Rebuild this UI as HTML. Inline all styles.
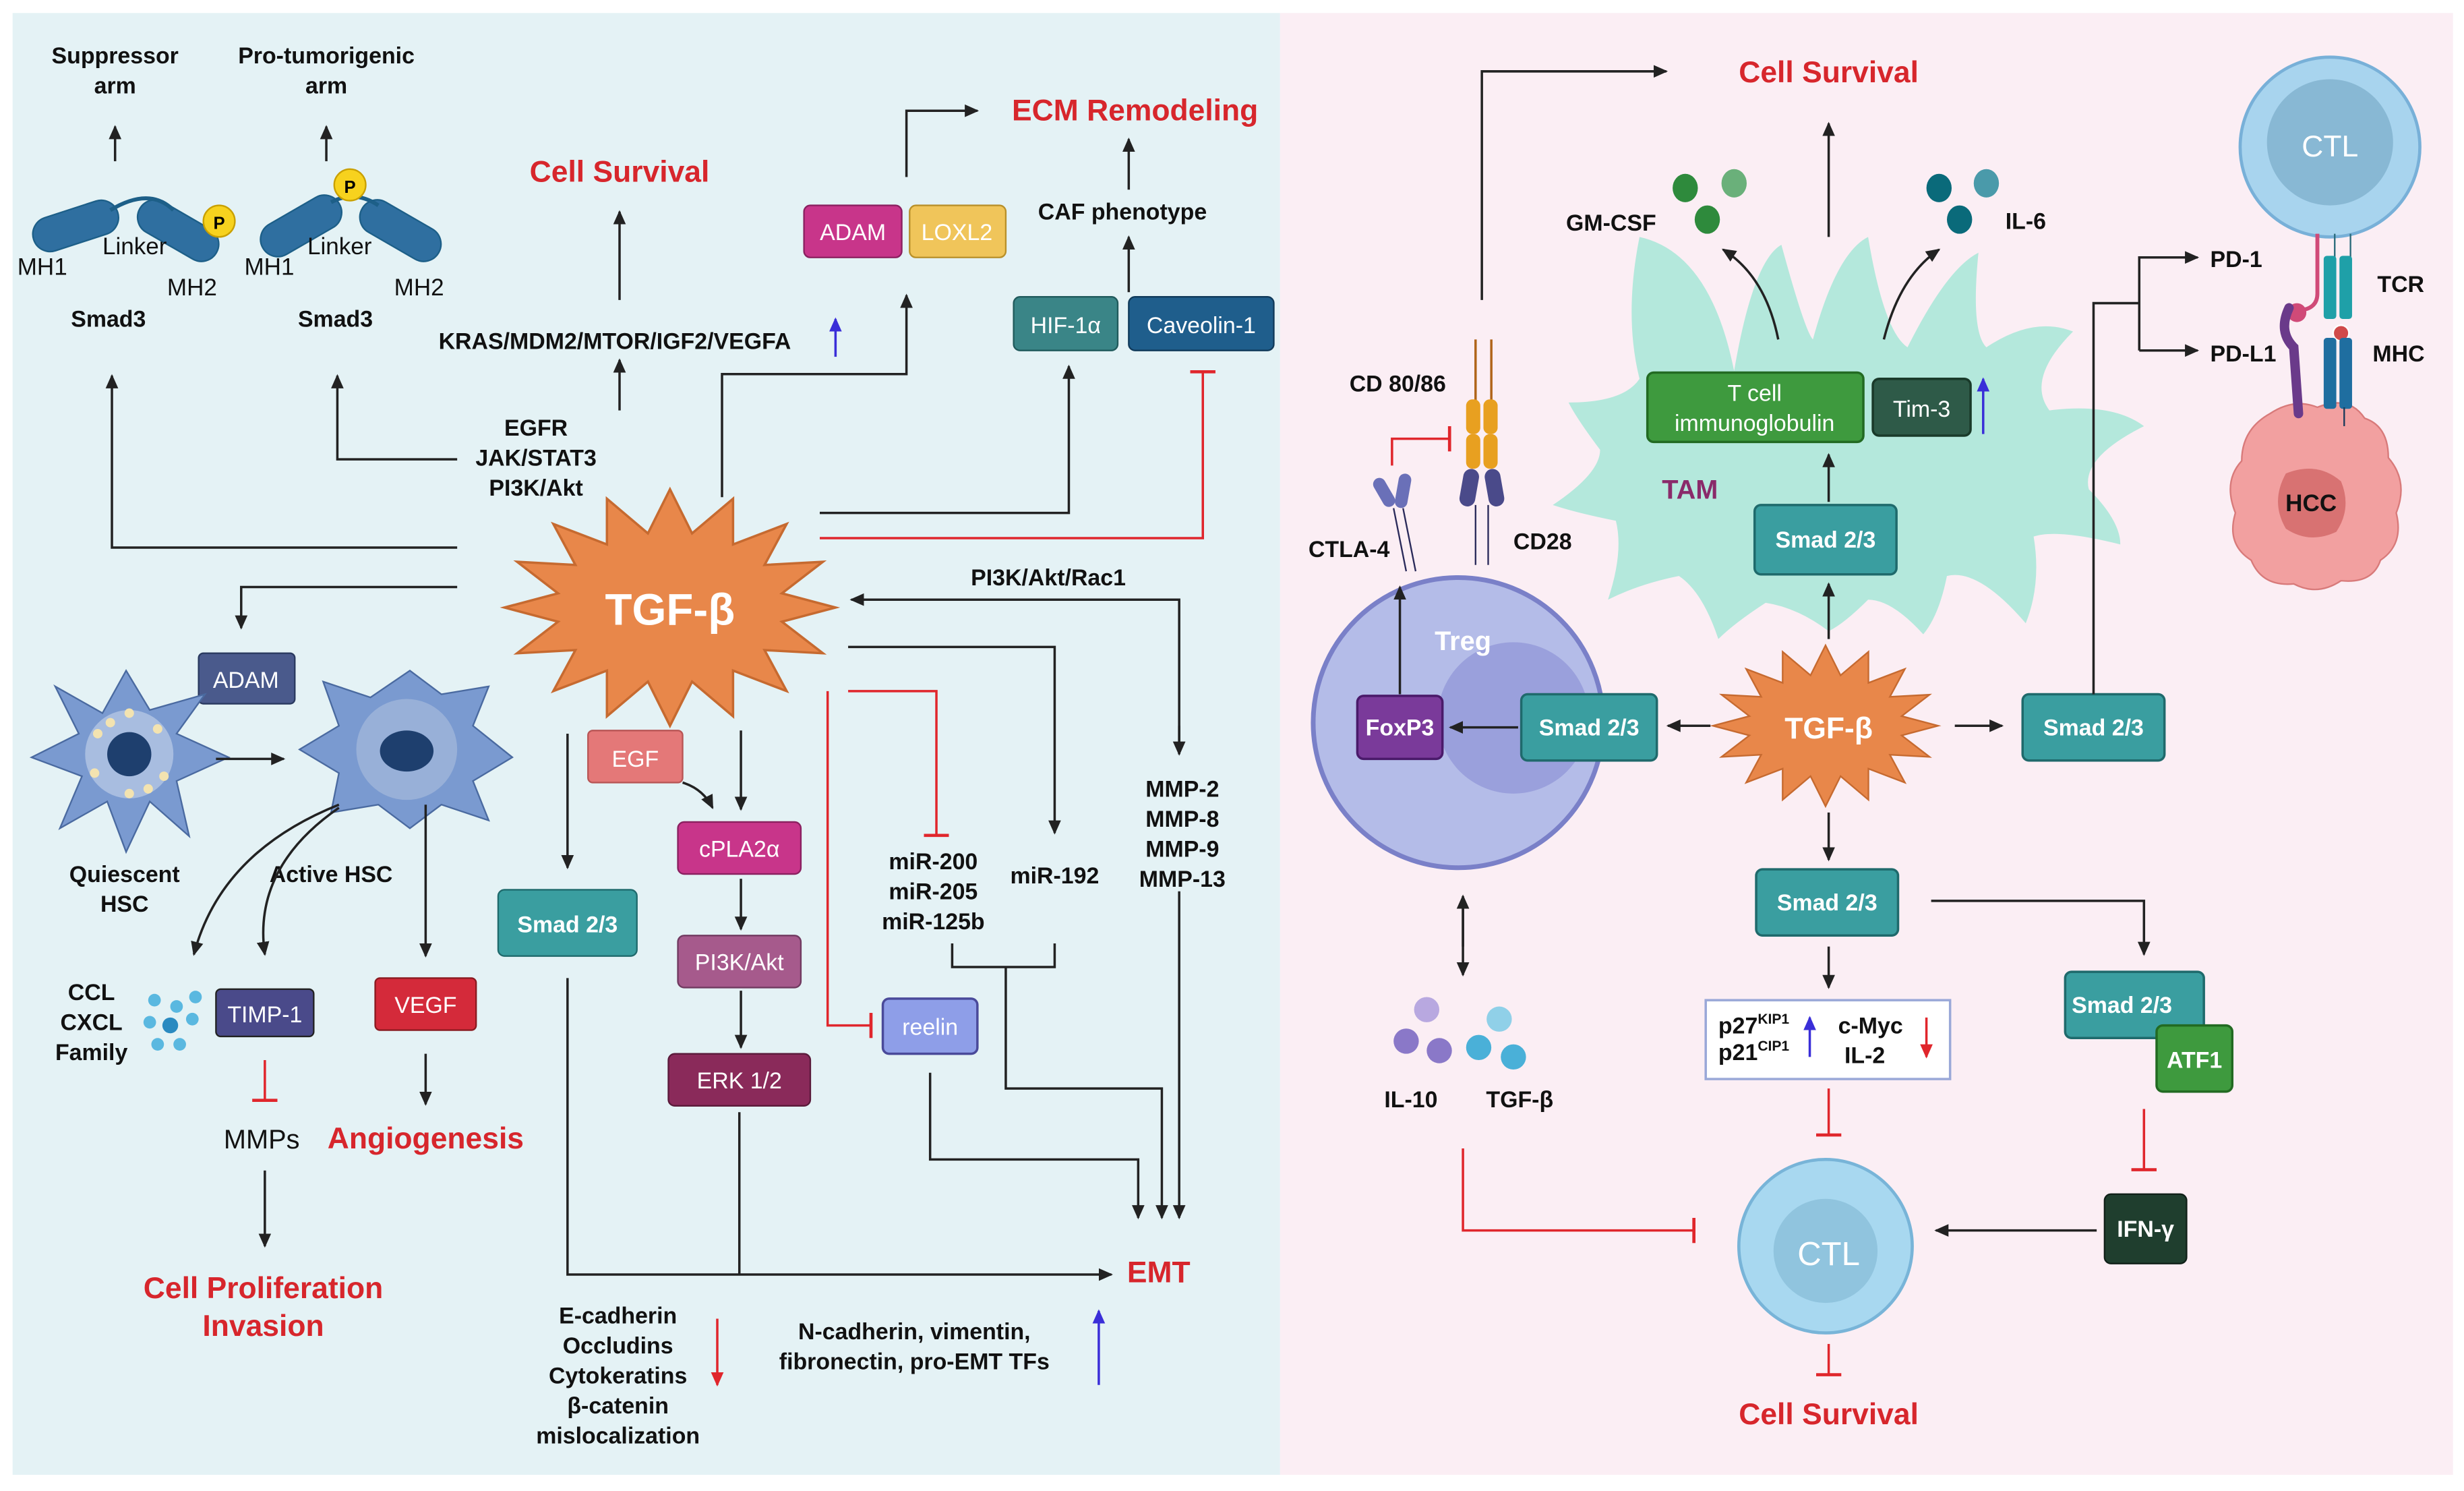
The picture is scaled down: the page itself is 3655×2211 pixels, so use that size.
<!DOCTYPE html>
<html><head><meta charset="utf-8"><style>
html,body{margin:0;padding:0;background:#fff}
svg{display:block}
text{font-family:"Liberation Sans",sans-serif}
.b{font-weight:bold;fill:#111;font-size:14.5px}
.r{font-weight:bold;fill:#d7262c;font-size:19px}
.w{fill:#fff;font-size:14.5px;text-anchor:middle}
.l{stroke:#222;stroke-width:1.5;fill:none}
.rl{stroke:#e0262c;stroke-width:1.5;fill:none}
</style></head><body>
<svg width="3655" height="2211" viewBox="0 0 1563 945" xmlns="http://www.w3.org/2000/svg">
<defs>
<marker id="a" markerWidth="10" markerHeight="10" refX="8" refY="5" orient="auto" markerUnits="userSpaceOnUse"><path d="M0,1 L9,5 L0,9 z" fill="#222"/></marker>
<marker id="ab" markerWidth="10" markerHeight="10" refX="8" refY="5" orient="auto" markerUnits="userSpaceOnUse"><path d="M0,1 L9,5 L0,9 z" fill="#3a2ed8"/></marker>
<marker id="ar" markerWidth="10" markerHeight="10" refX="8" refY="5" orient="auto" markerUnits="userSpaceOnUse"><path d="M0,1 L9,5 L0,9 z" fill="#e0262c"/></marker>
<marker id="t" markerWidth="4" markerHeight="16" refX="2" refY="8" orient="auto" markerUnits="userSpaceOnUse"><rect x="0.5" y="0" width="2" height="16" fill="#e0262c"/></marker>
<polygon id="star" points="105,0 71,9 97,29 60,27 74,53 40,40 40,69 14,47 0,75 -14,47 -40,69 -40,40 -74,53 -60,27 -97,29 -71,9 -105,0 -71,-9 -97,-29 -60,-27 -74,-53 -40,-40 -40,-69 -14,-47 0,-75 14,-47 40,-69 40,-40 74,-53 60,-27 97,-29 71,-9" fill="#e8874a" stroke="#c66a30" stroke-width="1.5"/>
</defs>
<rect width="1563" height="945" fill="#fff"/>
<rect x="8" y="8" width="804" height="927" fill="#e4f2f5"/>
<rect x="812" y="8" width="744" height="927" fill="#fbeef4"/>

<g stroke="#1d5f88" stroke-width="1" fill="#2f6fa0">
<rect x="20" y="132" width="56" height="22" rx="11" transform="rotate(-18 48 143)"/>
<rect x="85" y="135" width="56" height="22" rx="11" transform="rotate(30 113 146)"/>
<rect x="163" y="132" width="56" height="22" rx="11" transform="rotate(-30 191 143)"/>
<rect x="226" y="135" width="56" height="22" rx="11" transform="rotate(30 254 146)"/>
</g>
<path d="M70,133 Q95,118 110,133" stroke="#1d5f88" stroke-width="2.5" fill="none"/>
<path d="M210,128 Q225,120 240,130" stroke="#1d5f88" stroke-width="2.5" fill="none"/>
<circle cx="139" cy="140" r="10" fill="#f7d21e" stroke="#c9a000"/><text x="139" y="145" font-size="11" text-anchor="middle" font-weight="bold">P</text>
<circle cx="222" cy="117" r="10" fill="#f7d21e" stroke="#c9a000"/><text x="222" y="122" font-size="11" text-anchor="middle" font-weight="bold">P</text>
<text x="73" y="40" class="b" text-anchor="middle">Suppressor</text><text x="73" y="59" class="b" text-anchor="middle">arm</text>
<text x="207" y="40" class="b" text-anchor="middle">Pro-tumorigenic</text><text x="207" y="59" class="b" text-anchor="middle">arm</text>
<line x1="73" y1="102" x2="73" y2="80" class="l" marker-end="url(#a)"/>
<line x1="207" y1="102" x2="207" y2="80" class="l" marker-end="url(#a)"/>
<g font-size="15" fill="#111"><text x="65" y="161">Linker</text><text x="11" y="174">MH1</text><text x="106" y="187">MH2</text>
<text x="195" y="161">Linker</text><text x="155" y="174">MH1</text><text x="250" y="187">MH2</text></g>
<text x="45" y="207" class="b">Smad3</text><text x="189" y="207" class="b">Smad3</text>

<text x="393" y="115" class="r" text-anchor="middle">Cell Survival</text>
<text x="720" y="76" class="r" text-anchor="middle">ECM Remodeling</text>
<text x="390" y="221" class="b" text-anchor="middle">KRAS/MDM2/MTOR/IGF2/VEGFA</text>
<line x1="530" y1="226" x2="530" y2="202" stroke="#3a2ed8" stroke-width="1.5" marker-end="url(#ab)"/>
<text x="712" y="139" class="b" text-anchor="middle">CAF phenotype</text>
<text x="340" y="276" class="b" text-anchor="middle">EGFR</text><text x="340" y="295" class="b" text-anchor="middle">JAK/STAT3</text><text x="340" y="314" class="b" text-anchor="middle">PI3K/Akt</text>

<rect x="510" y="130" width="62" height="33" rx="4" fill="#c8358a" stroke="#8a2060"/><text x="541" y="152" class="w">ADAM</text>
<rect x="577" y="130" width="61" height="33" rx="4" fill="#f0c55a" stroke="#b8902a"/><text x="607" y="152" class="w">LOXL2</text>
<rect x="643" y="188" width="66" height="34" rx="4" fill="#3a8587" stroke="#205a5c"/><text x="676" y="211" class="w">HIF-1α</text>
<rect x="716" y="188" width="92" height="34" rx="4" fill="#1f5e8c" stroke="#103a5a"/><text x="762" y="211" class="w">Caveolin-1</text>

<path d="M290,347 H71 V238" class="l" marker-end="url(#a)"/>
<path d="M290,372 H153 V398" class="l" marker-end="url(#a)"/>
<path d="M290,291 H214 V238" class="l" marker-end="url(#a)"/>
<path d="M393,260 V228" class="l" marker-end="url(#a)"/>
<path d="M393,190 V134" class="l" marker-end="url(#a)"/>
<path d="M458,315 V237 H575 V187" class="l" marker-end="url(#a)"/>
<path d="M575,112 V70 H620" class="l" marker-end="url(#a)"/>
<path d="M716,120 V88" class="l" marker-end="url(#a)"/>
<path d="M716,185 V150" class="l" marker-end="url(#a)"/>
<path d="M520,325 H678 V232" class="l" marker-end="url(#a)"/>
<path d="M520,341 H763 V235" class="rl" marker-end="url(#t)"/>
<path d="M748,478 V380 H540" class="l" marker-end="url(#a)"/>
<line x1="748" y1="460" x2="748" y2="478" class="l" marker-end="url(#a)"/>
<text x="665" y="371" class="b" text-anchor="middle">PI3K/Akt/Rac1</text>
<path d="M538,410 H669 V528" class="l" marker-end="url(#a)"/>
<path d="M538,438 H594 V530" class="rl" marker-end="url(#t)"/>
<path d="M525,438 V650 H553" class="rl" marker-end="url(#t)"/>
<path d="M360,465 V550" class="l" marker-end="url(#a)"/>
<path d="M470,463 V513" class="l" marker-end="url(#a)"/>
<path d="M433,496 Q446,500 452,512" class="l" marker-end="url(#a)"/>
<path d="M470,557 V589" class="l" marker-end="url(#a)"/>
<path d="M470,628 V664" class="l" marker-end="url(#a)"/>
<path d="M360,620 V808 H705" class="l" marker-end="url(#a)"/>
<path d="M469,705 V808" class="l"/>
<path d="M590,680 V735 H722 V772" class="l" marker-end="url(#a)"/>
<path d="M604,598 V613 H669 V598" class="l"/>
<path d="M638,613 V690 H737 V772" class="l" marker-end="url(#a)"/>
<path d="M748,565 V772" class="l" marker-end="url(#a)"/>

<use href="#star" transform="translate(425,385)"/>
<text x="425" y="396" font-size="28" font-weight="bold" fill="#fff" text-anchor="middle">TGF-β</text>

<rect x="126" y="414" width="61" height="32" rx="3" fill="#4a5a8c" stroke="#2a3a60"/><text x="156" y="436" class="w">ADAM</text>
<rect x="373" y="463" width="60" height="33" rx="3" fill="#e47878" stroke="#b85555"/><text x="403" y="486" class="w">EGF</text>
<rect x="430" y="521" width="78" height="33" rx="4" fill="#c8358a" stroke="#8a2060"/><text x="469" y="543" class="w">cPLA2α</text>
<rect x="430" y="593" width="78" height="33" rx="4" fill="#a65a8c" stroke="#703a60"/><text x="469" y="615" class="w">PI3K/Akt</text>
<rect x="424" y="668" width="90" height="33" rx="4" fill="#8a2a5a" stroke="#5a1a3a"/><text x="469" y="690" class="w">ERK 1/2</text>
<rect x="316" y="564" width="88" height="42" rx="4" fill="#3a9ea0" stroke="#1f6a6c"/><text x="360" y="591" class="w" font-weight="bold">Smad 2/3</text>
<rect x="560" y="633" width="60" height="35" rx="4" fill="#8e9ee8" stroke="#4a4a9a" stroke-width="1.5"/><text x="590" y="656" class="w">reelin</text>
<text x="592" y="551" class="b" text-anchor="middle">miR-200</text><text x="592" y="570" class="b" text-anchor="middle">miR-205</text><text x="592" y="589" class="b" text-anchor="middle">miR-125b</text>
<text x="669" y="560" class="b" text-anchor="middle">miR-192</text>
<text x="750" y="505" class="b" text-anchor="middle">MMP-2</text><text x="750" y="524" class="b" text-anchor="middle">MMP-8</text><text x="750" y="543" class="b" text-anchor="middle">MMP-9</text><text x="750" y="562" class="b" text-anchor="middle">MMP-13</text>
<text x="735" y="813" class="r" text-anchor="middle">EMT</text>
<text x="392" y="839" class="b" text-anchor="middle">E-cadherin</text><text x="392" y="858" class="b" text-anchor="middle">Occludins</text><text x="392" y="877" class="b" text-anchor="middle">Cytokeratins</text><text x="392" y="896" class="b" text-anchor="middle">β-catenin</text><text x="392" y="915" class="b" text-anchor="middle">mislocalization</text>
<line x1="455" y1="836" x2="455" y2="878" stroke="#e0262c" stroke-width="1.5" marker-end="url(#ar)"/>
<text x="580" y="849" class="b" text-anchor="middle">N-cadherin, vimentin,</text><text x="580" y="868" class="b" text-anchor="middle">fibronectin, pro-EMT TFs</text>
<line x1="697" y1="878" x2="697" y2="831" stroke="#3a2ed8" stroke-width="1.5" marker-end="url(#ab)"/>

<polygon points="80,425 95,450 130,440 112,465 145,480 112,495 120,530 95,508 80,540 68,508 38,525 52,492 20,480 50,465 35,435 65,452" fill="#7a9ad0" stroke="#4a6aa0"/>
<circle cx="82" cy="478" r="28" fill="#a8bde0"/><circle cx="82" cy="478" r="14" fill="#1e3f6e"/>
<g fill="#f3e3b0"><circle cx="62" cy="465" r="3"/><circle cx="100" cy="462" r="3"/><circle cx="60" cy="490" r="3"/><circle cx="104" cy="492" r="3"/><circle cx="82" cy="452" r="3"/><circle cx="82" cy="503" r="3"/><circle cx="70" cy="458" r="3"/><circle cx="94" cy="500" r="3"/></g>
<polygon points="260,425 280,440 310,435 300,460 325,480 300,495 310,520 280,510 260,525 240,510 210,515 215,490 190,475 215,460 205,432 235,442" fill="#7a9ad0" stroke="#4a6aa0"/>
<circle cx="258" cy="475" r="32" fill="#98b0d8"/><ellipse cx="258" cy="476" rx="17" ry="13" fill="#1e3f6e"/>
<line x1="137" y1="481" x2="180" y2="481" class="l" marker-end="url(#a)"/>
<text x="79" y="559" class="b" text-anchor="middle">Quiescent</text><text x="79" y="578" class="b" text-anchor="middle">HSC</text>
<text x="210" y="559" class="b" text-anchor="middle">Active HSC</text>
<path d="M215,510 Q140,540 123,605" class="l" marker-end="url(#a)"/>
<path d="M215,512 Q160,550 168,605" class="l" marker-end="url(#a)"/>
<path d="M270,510 V606" class="l" marker-end="url(#a)"/>
<text x="58" y="634" class="b" text-anchor="middle">CCL</text><text x="58" y="653" class="b" text-anchor="middle">CXCL</text><text x="58" y="672" class="b" text-anchor="middle">Family</text>
<g fill="#5ab8e0"><circle cx="98" cy="634" r="4"/><circle cx="112" cy="638" r="4"/><circle cx="124" cy="632" r="4"/><circle cx="95" cy="648" r="4"/><circle cx="108" cy="650" r="5" fill="#2a8ac0"/><circle cx="122" cy="646" r="4"/><circle cx="100" cy="662" r="4"/><circle cx="114" cy="662" r="4"/></g>
<rect x="137" y="627" width="62" height="30" rx="3" fill="#4a4a8a" stroke="#222"/><text x="168" y="648" class="w">TIMP-1</text>
<rect x="238" y="620" width="64" height="33" rx="3" fill="#d42a3a" stroke="#8a1a20"/><text x="270" y="642" class="w">VEGF</text>
<path d="M168,672 V698" class="rl" marker-end="url(#t)"/>
<text x="166" y="728" font-size="17" fill="#111" text-anchor="middle">MMPs</text>
<path d="M168,742 V790" class="l" marker-end="url(#a)"/>
<path d="M270,668 V700" class="l" marker-end="url(#a)"/>
<text x="270" y="728" class="r" text-anchor="middle">Angiogenesis</text>
<text x="167" y="823" class="r" text-anchor="middle">Cell Proliferation</text><text x="167" y="847" class="r" text-anchor="middle">Invasion</text>

<text x="1160" y="52" class="r" text-anchor="middle">Cell Survival</text>
<path d="M940,190 V45 H1057" class="l" marker-end="url(#a)"/>
<path d="M1160,150 V78" class="l" marker-end="url(#a)"/>
<path d="M1040,150 Q1085,160 1100,235 Q1112,165 1130,155 Q1145,210 1150,215 Q1165,160 1185,150 Q1195,210 1210,220 Q1235,170 1255,160 Q1250,210 1260,220 Q1290,200 1315,210 Q1285,240 1300,260 Q1340,255 1360,270 Q1320,290 1325,310 Q1345,330 1345,345 Q1305,335 1290,340 Q1295,370 1285,395 Q1255,360 1235,365 Q1230,390 1220,402 Q1200,380 1185,380 Q1170,395 1160,400 Q1140,385 1120,382 Q1100,395 1090,405 Q1080,375 1065,365 Q1040,370 1020,380 Q1030,350 1025,330 Q1000,325 985,320 Q1015,300 1015,285 Q1000,265 995,255 Q1030,255 1040,240 Q1030,200 1040,150 Z" fill="#b4e8dc"/>
<path d="M1128,215 Q1120,175 1093,158" class="l" marker-end="url(#a)"/>
<path d="M1195,215 Q1205,175 1230,158" class="l" marker-end="url(#a)"/>
<ellipse cx="1069" cy="119" rx="8" ry="9" fill="#2e8a3c"/><ellipse cx="1100" cy="116" rx="8" ry="9" fill="#6ab07a"/><ellipse cx="1083" cy="139" rx="8" ry="9" fill="#2e8a3c"/>
<ellipse cx="1230" cy="119" rx="8" ry="9" fill="#0a6a7a"/><ellipse cx="1260" cy="116" rx="8" ry="9" fill="#4a9aaa"/><ellipse cx="1243" cy="139" rx="8" ry="9" fill="#0a6a7a"/>
<text x="1022" y="146" class="b" text-anchor="middle">GM-CSF</text><text x="1285" y="145" class="b" text-anchor="middle">IL-6</text>
<rect x="1045" y="236" width="137" height="44" rx="4" fill="#3e9a3e" stroke="#226a22" stroke-width="1.5"/><text x="1113" y="254" class="w">T cell</text><text x="1113" y="273" class="w">immunoglobulin</text>
<rect x="1188" y="240" width="62" height="36" rx="4" fill="#2e5a48" stroke="#1a3a2a" stroke-width="1.5"/><text x="1219" y="264" class="w">Tim-3</text>
<line x1="1258" y1="275" x2="1258" y2="240" stroke="#3a2ed8" stroke-width="1.5" marker-end="url(#ab)"/>
<text x="1072" y="316" font-size="17" font-weight="bold" fill="#8a2a6a" text-anchor="middle">TAM</text>
<rect x="1113" y="320" width="90" height="44" rx="4" fill="#3a9ea0" stroke="#1f6a6c" stroke-width="1.5"/><text x="1158" y="347" class="w" font-weight="bold">Smad 2/3</text>
<path d="M1160,318 V288" class="l" marker-end="url(#a)"/>
<path d="M1160,405 V370" class="l" marker-end="url(#a)"/>

<circle cx="925" cy="458" r="92" fill="#b4bce8" stroke="#7a80c8" stroke-width="3"/>
<circle cx="960" cy="455" r="48" fill="#9aa0dc"/>
<text x="928" y="412" font-size="17" font-weight="bold" fill="#fff" text-anchor="middle">Treg</text>
<rect x="861" y="441" width="54" height="40" rx="4" fill="#7a3a9a" stroke="#4a1a6a" stroke-width="1.5"/><text x="888" y="466" class="w" font-weight="bold">FoxP3</text>
<rect x="965" y="440" width="86" height="42" rx="4" fill="#3a9ea0" stroke="#1f6a6c" stroke-width="1.5"/><text x="1008" y="466" class="w" font-weight="bold">Smad 2/3</text>
<path d="M888,440 V372" class="l" marker-end="url(#a)"/>
<line x1="936" y1="215" x2="936" y2="255" stroke="#b0651a" stroke-width="1.5"/><line x1="946" y1="215" x2="946" y2="255" stroke="#b0651a" stroke-width="1.5"/>
<rect x="930" y="253" width="9" height="22" rx="4" fill="#e8a020"/><rect x="941" y="253" width="9" height="22" rx="4" fill="#e8a020"/>
<rect x="930" y="275" width="9" height="22" rx="4" fill="#e8a020"/><rect x="941" y="275" width="9" height="22" rx="4" fill="#e8a020"/>
<rect x="927" y="297" width="10" height="24" rx="5" fill="#4a4a8a" transform="rotate(10 932 309)"/><rect x="943" y="297" width="10" height="24" rx="5" fill="#4a4a8a" transform="rotate(-10 948 309)"/>
<line x1="936" y1="320" x2="936" y2="358" stroke="#2a2a5a"/><line x1="944" y1="320" x2="944" y2="358" stroke="#2a2a5a"/>
<rect x="874" y="302" width="8" height="20" rx="4" fill="#6a70b8" transform="rotate(-30 878 312)"/><rect x="886" y="300" width="8" height="22" rx="4" fill="#6a70b8" transform="rotate(10 890 311)"/>
<line x1="884" y1="322" x2="892" y2="362" stroke="#2a2a5a"/><line x1="890" y1="322" x2="898" y2="362" stroke="#2a2a5a"/>
<path d="M883,295 V278 H920" class="rl" marker-end="url(#t)"/>
<text x="856" y="248" class="b">CD 80/86</text>
<text x="830" y="353" class="b">CTLA-4</text><text x="960" y="348" class="b">CD28</text>

<use href="#star" transform="translate(1158,460) scale(0.68)"/>
<text x="1160" y="468" font-size="19" font-weight="bold" fill="#fff" text-anchor="middle">TGF-β</text>
<path d="M1085,460 H1058" class="l" marker-end="url(#a)"/>
<path d="M963,461 H920" class="l" marker-end="url(#a)"/>
<path d="M1240,460 H1270" class="l" marker-end="url(#a)"/>
<rect x="1283" y="440" width="90" height="42" rx="4" fill="#3a9ea0" stroke="#1f6a6c" stroke-width="1.5"/><text x="1328" y="466" class="w" font-weight="bold">Smad 2/3</text>
<path d="M1328,440 V192 H1357" class="l"/>
<path d="M1357,222 V163 H1394" class="l" marker-end="url(#a)"/>
<path d="M1357,222 H1394" class="l" marker-end="url(#a)"/>
<text x="1402" y="169" class="b">PD-1</text><text x="1402" y="229" class="b">PD-L1</text>
<text x="1508" y="185" class="b">TCR</text><text x="1505" y="229" class="b">MHC</text>
<circle cx="1478" cy="93" r="57" fill="#a8d4ee" stroke="#78b0d8" stroke-width="2"/>
<circle cx="1478" cy="90" r="40" fill="#88b8d4"/>
<text x="1478" y="99" font-size="19" fill="#fff" text-anchor="middle">CTL</text>
<path d="M1440,262 Q1455,252 1470,258 Q1490,250 1500,265 Q1515,270 1515,290 Q1528,305 1520,325 Q1525,345 1510,355 Q1505,370 1485,368 Q1470,378 1455,370 Q1435,372 1428,355 Q1412,345 1418,325 Q1410,305 1422,292 Q1422,272 1440,262 Z" fill="#f2a0a0" stroke="#d87a7a"/>
<path d="M1450,300 Q1470,292 1485,305 Q1492,322 1482,337 Q1465,345 1450,335 Q1440,318 1450,300 Z" fill="#d87272"/>
<text x="1466" y="324" font-size="15" font-weight="bold" fill="#111" text-anchor="middle">HCC</text>
<path d="M1470,148 V186 Q1470,194 1462,196" stroke="#d04a78" stroke-width="2.5" fill="none"/>
<circle cx="1457" cy="198" r="6" fill="#d04a78"/>
<path d="M1452,195 Q1445,210 1455,220 L1458,262" stroke="#6a3a8a" stroke-width="6" fill="none" stroke-linecap="round"/>
<line x1="1481" y1="148" x2="1481" y2="200" stroke="#2a6a7a"/><line x1="1491" y1="148" x2="1491" y2="200" stroke="#2a6a7a"/>
<rect x="1474" y="162" width="8" height="40" rx="2" fill="#1fa0a8"/><rect x="1484" y="162" width="8" height="40" rx="2" fill="#1fa0a8"/>
<circle cx="1485" cy="211" r="5" fill="#d04a4a" stroke="#fff"/>
<rect x="1474" y="214" width="8" height="45" rx="2" fill="#1f6ea0"/><rect x="1484" y="214" width="8" height="45" rx="2" fill="#1f6ea0"/>
<line x1="1487" y1="258" x2="1487" y2="270" stroke="#1a3a5a"/>

<path d="M1160,515 V545" class="l" marker-end="url(#a)"/>
<rect x="1114" y="551" width="90" height="42" rx="4" fill="#3a9ea0" stroke="#1f6a6c" stroke-width="1.5"/><text x="1159" y="577" class="w" font-weight="bold">Smad 2/3</text>
<path d="M1160,600 V626" class="l" marker-end="url(#a)"/>
<path d="M1225,571 H1360 V605" class="l" marker-end="url(#a)"/>
<rect x="1082" y="634" width="155" height="50" fill="#fff" stroke="#9aa8d8" stroke-width="1.5"/>
<text x="1090" y="655" class="b" font-size="14">p27<tspan font-size="9" dy="-6">KIP1</tspan></text>
<text x="1090" y="672" class="b" font-size="14">p21<tspan font-size="9" dy="-6">CIP1</tspan></text>
<line x1="1148" y1="670" x2="1148" y2="645" stroke="#3a2ed8" stroke-width="1.5" marker-end="url(#ab)"/>
<text x="1166" y="655" class="b">c-Myc</text><text x="1170" y="674" class="b">IL-2</text>
<line x1="1222" y1="645" x2="1222" y2="670" stroke="#e0262c" stroke-width="1.5" marker-end="url(#ar)"/>
<rect x="1310" y="616" width="88" height="42" rx="4" fill="#3a9ea0" stroke="#1f6a6c" stroke-width="1.5"/><text x="1346" y="642" class="w" font-weight="bold">Smad 2/3</text>
<rect x="1368" y="650" width="48" height="42" rx="4" fill="#3e9a3e" stroke="#226a22" stroke-width="1.5"/><text x="1392" y="677" class="w" font-weight="bold">ATF1</text>
<path d="M1160,690 V720" class="rl" marker-end="url(#t)"/>
<path d="M1360,703 V742" class="rl" marker-end="url(#t)"/>
<rect x="1335" y="757" width="52" height="44" rx="4" fill="#1f3e2e" stroke="#102018"/><text x="1361" y="784" class="w" font-weight="bold">IFN-γ</text>
<path d="M1330,780 H1228" class="l" marker-end="url(#a)"/>
<circle cx="1158" cy="790" r="55" fill="#a8d8f0" stroke="#78b4d8" stroke-width="2"/>
<circle cx="1158" cy="793" r="33" fill="#90c4de"/>
<text x="1160" y="802" font-size="21" fill="#fff" text-anchor="middle">CTL</text>
<path d="M1160,852 V872" class="rl" marker-end="url(#t)"/>
<text x="1160" y="903" class="r" text-anchor="middle">Cell Survival</text>
<path d="M928,728 V780 H1075" class="rl" marker-end="url(#t)"/>
<path d="M928,575 V618" class="l" marker-end="url(#a)"/>
<path d="M928,600 V568" class="l" marker-end="url(#a)"/>
<circle cx="905" cy="640" r="8" fill="#b8a8e0"/><circle cx="892" cy="660" r="8" fill="#8a78c8"/><circle cx="913" cy="666" r="8" fill="#8a78c8"/>
<circle cx="951" cy="646" r="8" fill="#90d0e8"/><circle cx="938" cy="664" r="8" fill="#4ab0d8"/><circle cx="960" cy="670" r="8" fill="#4ab0d8"/>
<text x="895" y="702" class="b" text-anchor="middle">IL-10</text><text x="964" y="702" class="b" text-anchor="middle">TGF-β</text>
</svg>
</body></html>
